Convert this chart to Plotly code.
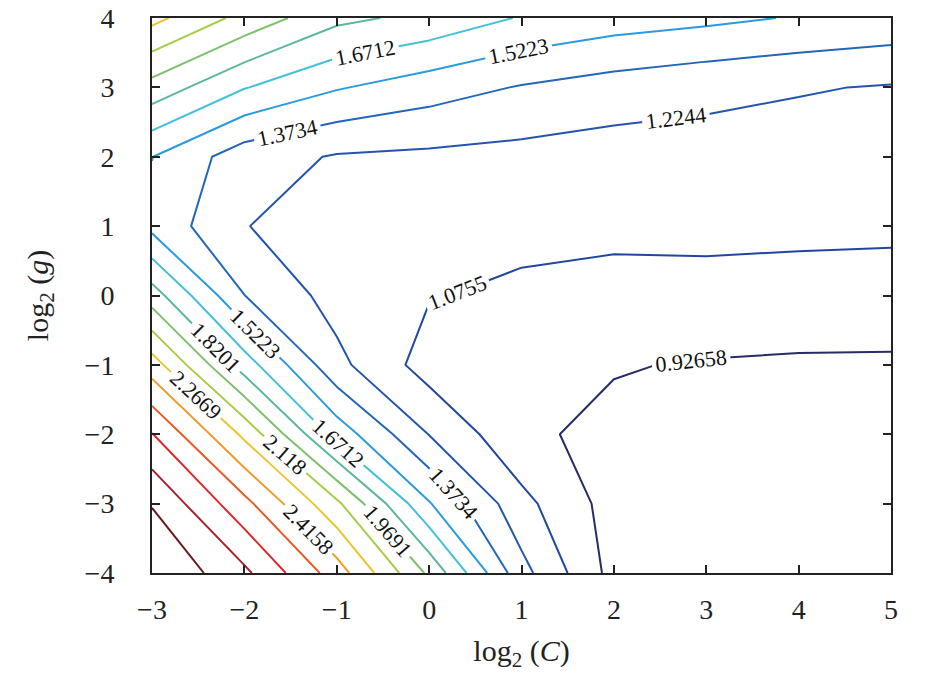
import plotly.graph_objects as go

# Grid axes
log2_C = [-3, -2, -1, 0, 1, 2, 3, 4, 5]
log2_g = [-4, -3, -2, -1, 0, 1, 2, 3, 4]

# Values, one row per log2(g) value (bottom to top)
row_g_m4 = [3.1605, 2.895, 2.49, 1.94, 1.275, 0.875, 0.85, 0.84, 0.83]
row_g_m3 = [3.002, 2.61, 2.15, 1.533, 1.12, 0.865, 0.80, 0.79, 0.7777]
row_g_m2 = [2.72, 2.235, 1.61, 1.22, 0.955, 0.8865, 0.84, 0.83, 0.82]
row_g_m1 = [2.34, 1.745, 1.265, 1.01, 0.98, 0.937, 0.914, 0.90, 0.90]
row_g_0 = [1.89, 1.375, 1.166, 1.084, 1.045, 1.05, 1.054, 1.056, 1.04]
row_g_1 = [1.48, 1.228, 1.17, 1.14, 1.121, 1.093, 1.092, 1.0865, 1.0915]
row_g_2 = [1.525, 1.292, 1.212, 1.195, 1.178, 1.156, 1.161, 1.153, 1.15]
row_g_3 = [1.913, 1.679, 1.535, 1.443, 1.363, 1.308, 1.265, 1.236, 1.214]
row_g_4 = [2.31, 2.07, 1.856, 1.78, 1.66, 1.594, 1.557, 1.511, 1.475]

z_grid = [row_g_m4, row_g_m3, row_g_m2, row_g_m1, row_g_0,
          row_g_1, row_g_2, row_g_3, row_g_4]

# Contour levels
level_start = 0.92658
level_step = 0.148926
level_count = 15
level_colors = ["#262d66", "#2147a0", "#2355ad", "#2466b8", "#2a9bdc",
                "#45c0d8", "#5cb89a", "#7dc16a", "#a8cc48", "#ecc42c",
                "#f29a2a", "#ea5a26", "#e0282a", "#a8202a", "#6a1a1e"]

colorscale = [[k / (level_count - 1), c] for k, c in enumerate(level_colors)]

serif = "Liberation Serif"

fig = go.Figure(go.Contour(
    x=log2_C, y=log2_g, z=z_grid,
    autocontour=False,
    contours=dict(start=level_start,
                  end=level_start + (level_count - 1 + 0.2) * level_step,
                  size=level_step,
                  coloring="lines", showlabels=True,
                  labelformat=".5~g",
                  labelfont=dict(family=serif, size=22, color="#111111")),
    line=dict(width=2, smoothing=0),
    colorscale=colorscale, showscale=False, hoverinfo="skip",
))

axis_common = dict(
    showline=True, linewidth=2, linecolor="#222222", mirror="ticks",
    ticks="inside", ticklen=8, tickwidth=1.5, tickcolor="#222222",
    showgrid=False, zeroline=False, automargin=False,
    ticklabeloverflow="allow",
    tickfont=dict(family=serif, size=28, color="#222222"),
)

fig.update_layout(
    width=946, height=679,
    margin=dict(l=144, r=63, t=10, b=114),
    paper_bgcolor="white", plot_bgcolor="white",
    showlegend=False,
    xaxis=dict(range=[-3, 5], tickvals=log2_C, ticklabelstandoff=10,
               title=dict(text="log<sub>2</sub> (<i>C</i>)",
                          font=dict(family=serif, size=30, color="#222222"),
                          standoff=16),
               **axis_common),
    yaxis=dict(range=[-4, 4], tickvals=log2_g, ticklabelstandoff=30,
               title=dict(text="log<sub>2</sub> (<i>g</i>)",
                          font=dict(family=serif, size=30, color="#222222"),
                          standoff=27),
               **axis_common),
)

fig.write_html("out.html")
